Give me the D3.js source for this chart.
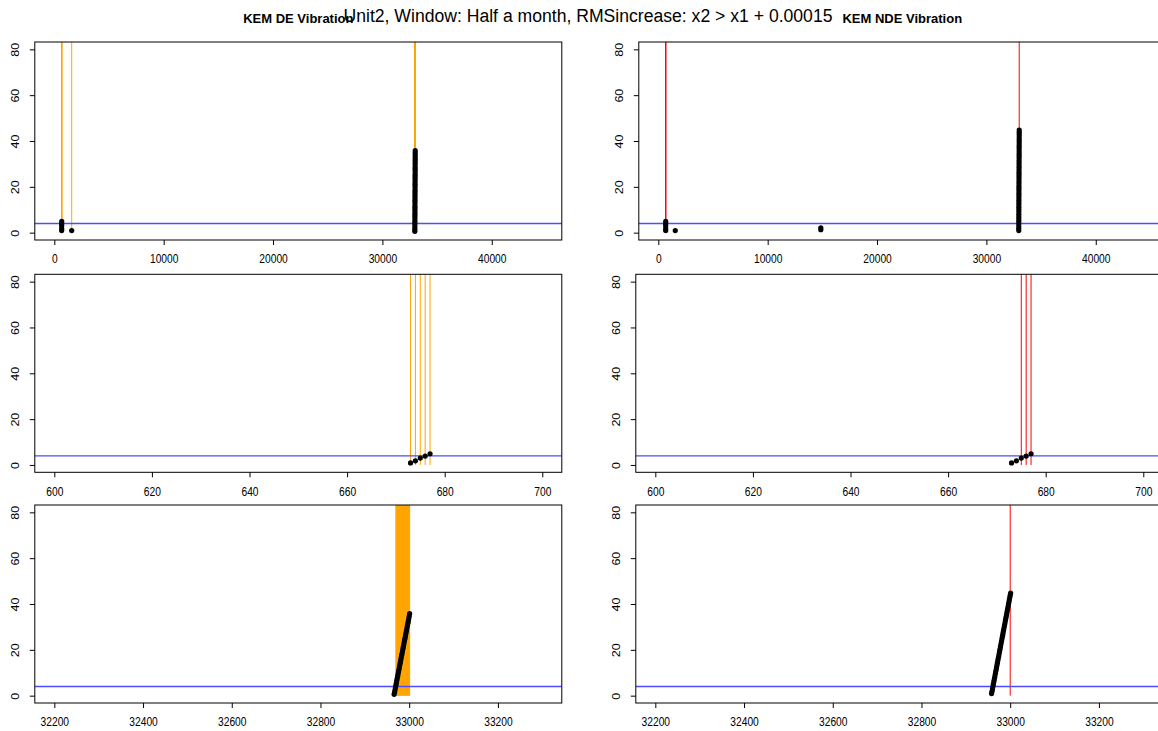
<!DOCTYPE html>
<html><head><meta charset="utf-8">
<script src="https://cdn.jsdelivr.net/npm/d3@7"></script>
<style>body{margin:0;background:#fff}svg{display:block}</style>
</head><body><svg id="c" width="1158" height="731"></svg>
<script>
// ---------- data ----------
const titleMain = "Unit2, Window: Half a month, RMSincrease: x2 > x1 + 0.00015";
const panelTitles = ["KEM DE Vibration", "KEM NDE Vibration"];
const threshold = 4;
const yLim = [0, 80];
const yTicks = [0, 20, 40, 60, 80];
const xLimFull = [0, 44620];
const xLimEarly = [600, 700];
const xLimLate = [32200, 33300];
const xTicksFull = [0, 10000, 20000, 30000, 40000];
const xTicksEarly = [600, 620, 640, 660, 680, 700];
const xTicksLate = [32200, 32400, 32600, 32800, 33000, 33200];

const deX = [673, 674, 675, 676, 677, 1590,
  32966, 32967, 32968, 32969, 32970, 32971, 32972, 32973, 32974, 32975, 32976, 32977,
  32978, 32979, 32980, 32981, 32982, 32983, 32984, 32985, 32986, 32987, 32988, 32989,
  32990, 32991, 32992, 32993, 32994, 32995, 32996, 32997, 32998, 32999, 33000, 33001];
const deY = [0.9, 1.8, 3.0, 3.9, 4.9, 0.9,
  0.6, 1.5, 2.5, 3.6, 4.6, 5.5, 6.6, 7.6, 8.5, 9.6, 10.6, 11.5,
  12.6, 13.6, 14.5, 15.6, 16.6, 17.6, 18.5, 19.6, 20.6, 21.5, 22.6, 23.6,
  24.6, 25.5, 26.6, 27.6, 28.5, 29.6, 30.6, 31.6, 32.5, 33.6, 34.7, 35.8];
const deAlarms = [673, 674, 675, 676, 677, 1590,
  32970, 32971, 32972, 32973, 32974, 32975, 32976, 32977, 32978, 32979, 32980, 32981,
  32982, 32983, 32984, 32985, 32986, 32987, 32988, 32989, 32990, 32991, 32992, 32993,
  32994, 32995, 32996, 32997, 32998, 32999, 33000, 33001];

const ndeX = [673, 674, 675, 676, 677, 1550, 14860, 14860,
  32958, 32959, 32960, 32961, 32962, 32963, 32964, 32965, 32966, 32967, 32968,
  32969, 32970, 32971, 32972, 32973, 32974, 32975, 32976, 32977, 32978, 32979,
  32980, 32981, 32982, 32983, 32984, 32985, 32986, 32987, 32988, 32989, 32990,
  32991, 32992, 32993, 32994, 32995, 32996, 32997, 32998, 32999, 33000, 33001];
const ndeY = [0.9, 1.8, 3.0, 3.9, 4.9, 0.9, 1.3, 2.1,
  0.9, 1.9, 2.9, 3.9, 5.0, 6.0, 7.0, 8.0, 9.1, 10.1, 11.1,
  12.1, 13.1, 14.2, 15.2, 16.2, 17.2, 18.3, 19.3, 20.3, 21.3, 22.3,
  23.4, 24.4, 25.4, 26.4, 27.5, 28.5, 29.5, 30.5, 31.5, 32.6, 33.6,
  34.6, 35.6, 36.7, 37.7, 38.7, 39.7, 40.7, 41.8, 42.8, 43.8, 44.8];
const ndeAlarms = [675, 676, 677, 33000];

// ---------- layout ----------
const svg = d3.select("#c");
const boxW = 527, boxH = 198;
const leftL = 34.8;
const rowTop = [42, 274.3, 505];
const rightOffset = [604, 601, 601];
const sx = 0.82;
const font = "'Liberation Sans', Arial, sans-serif";

const series = [
  {x: deX, y: deY, alarms: deAlarms, color: "#FFA500"},
  {x: ndeX, y: ndeY, alarms: ndeAlarms, color: "#FF0000"}
];
const rows = [
  {lim: xLimFull, ticks: xTicksFull},
  {lim: xLimEarly, ticks: xTicksEarly},
  {lim: xLimLate, ticks: xTicksLate}
];
const ext = l => { const d = (l[1] - l[0]) * 0.04; return [l[0] - d, l[1] + d]; };

rows.forEach((row, r) => {
  series.forEach((s, c) => {
    const L = c === 0 ? leftL : leftL + rightOffset[r];
    const T = rowTop[r];
    const x = d3.scaleLinear().domain(ext(row.lim)).range([L, L + boxW]);
    const y = d3.scaleLinear().domain(ext(yLim)).range([T + boxH, T]);
    const g = svg.append("g");
    const cid = `clip${r}${c}`;
    g.append("clipPath").attr("id", cid).append("rect")
      .attr("x", L).attr("y", T).attr("width", boxW).attr("height", boxH);
    const plot = g.append("g").attr("clip-path", `url(#${cid})`);
    const pts = s.x.map((v, i) => [v, s.y[i]]);
    plot.selectAll("line.alarm").data(s.alarms).join("line").attr("class", "alarm")
      .attr("x1", d => x(d)).attr("x2", d => x(d))
      .attr("y1", y(0)).attr("y2", T)
      .attr("stroke", s.color).attr("stroke-width", 1);
    plot.append("line")
      .attr("x1", L).attr("x2", L + boxW)
      .attr("y1", y(threshold)).attr("y2", y(threshold))
      .attr("stroke", "#4d4dff").attr("stroke-width", 1.3);
    plot.selectAll("circle").data(pts).join("circle")
      .attr("cx", d => x(d[0])).attr("cy", d => y(d[1])).attr("r", 2.6)
      .attr("fill", "#000");
    g.append("rect").attr("x", L).attr("y", T).attr("width", boxW).attr("height", boxH)
      .attr("fill", "none").attr("stroke", "#000").attr("stroke-width", 1);

    const xa = g.append("g").attr("transform", `translate(0,${T + boxH})`)
      .call(d3.axisBottom(x).tickValues(row.ticks).tickSize(5).tickSizeOuter(0)
        .tickFormat(d3.format("d")));
    xa.select(".domain").remove();
    xa.selectAll("text").attr("y", null).attr("dy", "0.35em")
      .attr("transform", `translate(0,19) scale(${sx},1)`)
      .attr("font-size", 12.5).attr("font-family", font).attr("fill", "#000");
    xa.selectAll("line").attr("stroke", "#000");

    const ya = g.append("g").attr("transform", `translate(${L},0)`)
      .call(d3.axisLeft(y).tickValues(yTicks).tickSize(5).tickSizeOuter(0));
    ya.select(".domain").remove();
    ya.selectAll("text").attr("x", null).attr("dy", "0.35em")
      .attr("text-anchor", "middle")
      .attr("transform", `translate(-19.5,0) scale(${sx},1) rotate(-90)`)
      .attr("font-size", 12.5).attr("font-family", font).attr("fill", "#000");
    ya.selectAll("line").attr("stroke", "#000");

    if (r === 0) {
      svg.append("text").attr("x", L + boxW / 2).attr("y", 23)
        .attr("text-anchor", "middle").attr("font-family", font)
        .attr("font-weight", "bold").attr("font-size", 13)
        .text(panelTitles[c]);
    }
  });
});

svg.append("text").attr("x", 588).attr("y", 22).attr("text-anchor", "middle")
  .attr("font-family", font).attr("font-size", 17.6)
  .text(titleMain);
</script></body></html>
